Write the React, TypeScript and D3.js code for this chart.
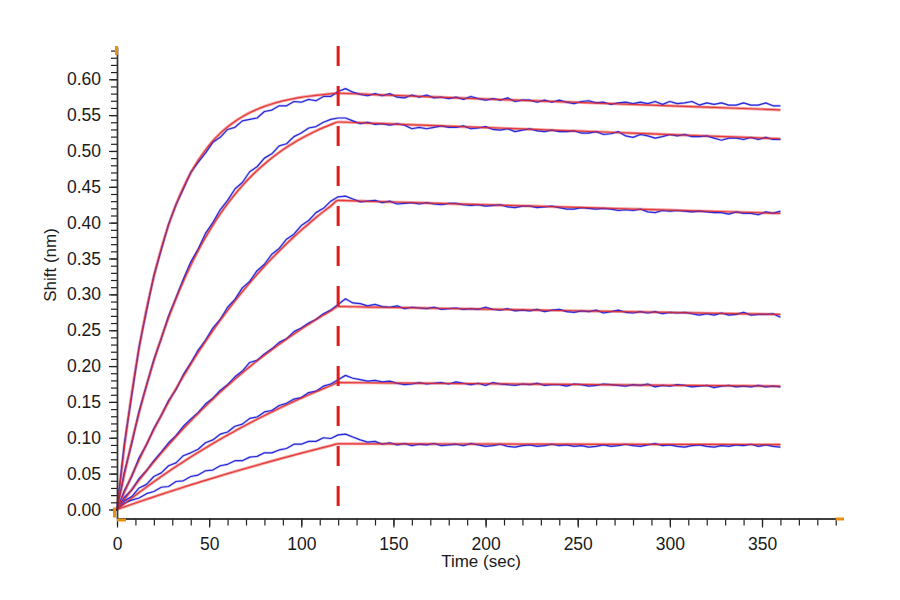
import React, { useRef, useEffect } from "react";
import * as d3 from "d3";

// sensor time grid (s) and kinetic fit time grid
const dataTimes = d3.range(0, 361, 4);
const fitTimes = d3.range(0, 121, 4).concat(d3.range(140, 361, 20));
const associationEnd = 120;

// measured response (nm), one array per analyte concentration, t = 0..360 step 4
const blue1 = [
  0.000, 0.092, 0.159, 0.227, 0.277, 0.326, 0.362, 0.398, 0.425, 0.447, 0.470, 0.484, 0.497, 0.512, 0.519, 0.530,
  0.533, 0.542, 0.544, 0.546, 0.555, 0.557, 0.563, 0.563, 0.569, 0.568, 0.572, 0.570, 0.576, 0.576, 0.583,
  0.587, 0.582, 0.579, 0.577, 0.580, 0.577, 0.580, 0.575, 0.574, 0.578, 0.575, 0.578, 0.574, 0.575, 0.573, 0.575,
  0.572, 0.576, 0.573, 0.571, 0.573, 0.571, 0.574, 0.569, 0.571, 0.571, 0.568, 0.571, 0.568, 0.571, 0.568, 0.566,
  0.569, 0.570, 0.567, 0.568, 0.565, 0.567, 0.568, 0.566, 0.568, 0.566, 0.569, 0.565, 0.569, 0.566, 0.567, 0.569,
  0.564, 0.567, 0.565, 0.567, 0.564, 0.564, 0.567, 0.564, 0.564, 0.567, 0.563, 0.563,
];
const blue2 = [
  0.000, 0.052, 0.092, 0.137, 0.173, 0.209, 0.238, 0.270, 0.295, 0.321, 0.345, 0.363, 0.385, 0.400, 0.418, 0.431,
  0.447, 0.456, 0.471, 0.478, 0.490, 0.496, 0.507, 0.510, 0.520, 0.525, 0.532, 0.534, 0.540, 0.544, 0.546,
  0.546, 0.542, 0.538, 0.540, 0.537, 0.538, 0.536, 0.538, 0.536, 0.531, 0.533, 0.531, 0.533, 0.535, 0.533, 0.533,
  0.535, 0.531, 0.532, 0.534, 0.530, 0.529, 0.531, 0.527, 0.529, 0.531, 0.528, 0.527, 0.529, 0.527, 0.527, 0.528,
  0.525, 0.525, 0.527, 0.523, 0.524, 0.527, 0.521, 0.519, 0.523, 0.521, 0.518, 0.520, 0.523, 0.521, 0.523, 0.520,
  0.520, 0.521, 0.518, 0.515, 0.518, 0.518, 0.516, 0.519, 0.516, 0.519, 0.516, 0.516,
];
const blue3 = [
  0.000, 0.026, 0.046, 0.072, 0.090, 0.113, 0.131, 0.152, 0.167, 0.188, 0.204, 0.222, 0.236, 0.253, 0.265, 0.282,
  0.293, 0.309, 0.318, 0.333, 0.342, 0.356, 0.364, 0.377, 0.384, 0.396, 0.403, 0.414, 0.420, 0.430, 0.436,
  0.437, 0.433, 0.429, 0.430, 0.431, 0.428, 0.430, 0.426, 0.427, 0.428, 0.426, 0.428, 0.426, 0.425, 0.427, 0.427,
  0.425, 0.424, 0.425, 0.423, 0.424, 0.425, 0.422, 0.421, 0.423, 0.423, 0.421, 0.422, 0.423, 0.421, 0.419, 0.419,
  0.421, 0.420, 0.419, 0.420, 0.419, 0.417, 0.418, 0.417, 0.419, 0.415, 0.414, 0.417, 0.416, 0.417, 0.416, 0.415,
  0.416, 0.415, 0.414, 0.414, 0.412, 0.415, 0.413, 0.413, 0.411, 0.415, 0.413, 0.416,
];
const blue4 = [
  0.000, 0.017, 0.027, 0.043, 0.054, 0.068, 0.080, 0.093, 0.103, 0.116, 0.126, 0.135, 0.147, 0.155, 0.166, 0.174,
  0.185, 0.193, 0.205, 0.208, 0.217, 0.224, 0.233, 0.238, 0.248, 0.253, 0.260, 0.265, 0.273, 0.278, 0.286,
  0.294, 0.288, 0.287, 0.284, 0.286, 0.283, 0.282, 0.284, 0.280, 0.282, 0.281, 0.280, 0.282, 0.279, 0.280, 0.281,
  0.279, 0.280, 0.279, 0.282, 0.279, 0.278, 0.280, 0.277, 0.278, 0.277, 0.279, 0.276, 0.278, 0.279, 0.276, 0.275,
  0.277, 0.276, 0.278, 0.274, 0.276, 0.278, 0.275, 0.274, 0.276, 0.274, 0.276, 0.273, 0.275, 0.274, 0.275, 0.273,
  0.271, 0.273, 0.271, 0.274, 0.271, 0.272, 0.275, 0.271, 0.272, 0.272, 0.273, 0.268,
];
const blue5 = [
  0.000, 0.012, 0.018, 0.030, 0.035, 0.046, 0.051, 0.061, 0.065, 0.075, 0.079, 0.084, 0.093, 0.097, 0.105, 0.108,
  0.116, 0.119, 0.127, 0.129, 0.136, 0.138, 0.145, 0.148, 0.154, 0.156, 0.163, 0.165, 0.172, 0.175, 0.181,
  0.187, 0.183, 0.181, 0.179, 0.180, 0.178, 0.179, 0.176, 0.174, 0.175, 0.177, 0.175, 0.176, 0.177, 0.175, 0.178,
  0.176, 0.174, 0.176, 0.173, 0.177, 0.175, 0.174, 0.173, 0.175, 0.174, 0.176, 0.173, 0.174, 0.174, 0.172, 0.175,
  0.174, 0.172, 0.173, 0.175, 0.174, 0.173, 0.172, 0.174, 0.173, 0.175, 0.171, 0.173, 0.172, 0.174, 0.173, 0.171,
  0.172, 0.173, 0.170, 0.172, 0.173, 0.171, 0.172, 0.171, 0.173, 0.171, 0.172, 0.171,
];
const blue6 = [
  0.000, 0.009, 0.013, 0.016, 0.022, 0.025, 0.031, 0.032, 0.039, 0.040, 0.046, 0.048, 0.054, 0.055, 0.061, 0.063,
  0.068, 0.068, 0.073, 0.074, 0.079, 0.079, 0.083, 0.085, 0.091, 0.091, 0.095, 0.095, 0.100, 0.099, 0.104,
  0.105, 0.101, 0.097, 0.094, 0.095, 0.091, 0.093, 0.090, 0.092, 0.089, 0.091, 0.090, 0.092, 0.089, 0.090, 0.091,
  0.089, 0.092, 0.090, 0.088, 0.089, 0.091, 0.088, 0.087, 0.089, 0.090, 0.088, 0.089, 0.091, 0.089, 0.090, 0.088,
  0.089, 0.087, 0.088, 0.090, 0.088, 0.089, 0.091, 0.089, 0.088, 0.090, 0.092, 0.089, 0.090, 0.088, 0.087, 0.089,
  0.090, 0.088, 0.087, 0.089, 0.088, 0.090, 0.089, 0.091, 0.088, 0.090, 0.088, 0.087,
];

// 1:1 global fit curves (nm) on fitTimes
const fit1 = [
  0, 0.0875, 0.1619, 0.2252, 0.2790, 0.3248, 0.3637, 0.3969, 0.4250, 0.4489, 0.4693, 0.4866, 0.5013, 0.5139, 0.5245,
  0.5335, 0.5412, 0.5478, 0.5534, 0.5581, 0.5621, 0.5655, 0.5684, 0.5709, 0.5730, 0.5748, 0.5763, 0.5776, 0.5787,
  0.5797, 0.5805, 0.5785, 0.5765, 0.5745, 0.5725, 0.5706, 0.5687, 0.5668, 0.5649, 0.5630, 0.5611, 0.5592, 0.5573,
];
const fit2 = [
  0, 0.0490, 0.0939, 0.1350, 0.1727, 0.2072, 0.2387, 0.2677, 0.2941, 0.3184, 0.3406, 0.3609, 0.3795, 0.3966, 0.4122,
  0.4265, 0.4396, 0.4516, 0.4626, 0.4726, 0.4818, 0.4903, 0.4980, 0.5051, 0.5116, 0.5175, 0.5229, 0.5279, 0.5325,
  0.5367, 0.5404, 0.5385, 0.5365, 0.5346, 0.5326, 0.5307, 0.5287, 0.5268, 0.5248, 0.5229, 0.5209, 0.5190, 0.5170,
];
const fit3 = [
  0, 0.0241, 0.0472, 0.0695, 0.0908, 0.1114, 0.1311, 0.1501, 0.1683, 0.1859, 0.2027, 0.2189, 0.2345, 0.2495, 0.2639,
  0.2777, 0.2910, 0.3037, 0.3160, 0.3279, 0.3392, 0.3501, 0.3605, 0.3706, 0.3803, 0.3896, 0.3985, 0.4072, 0.4154,
  0.4233, 0.4310, 0.4295, 0.4280, 0.4265, 0.4250, 0.4235, 0.4220, 0.4205, 0.4190, 0.4175, 0.4160, 0.4145, 0.4130,
];
const fit4 = [
  0, 0.0141, 0.0278, 0.0411, 0.0540, 0.0664, 0.0786, 0.0903, 0.1018, 0.1129, 0.1236, 0.1341, 0.1442, 0.1540, 0.1636,
  0.1729, 0.1818, 0.1906, 0.1990, 0.2073, 0.2152, 0.2229, 0.2304, 0.2377, 0.2448, 0.2517, 0.2583, 0.2648, 0.2711,
  0.2771, 0.2831, 0.2822, 0.2812, 0.2803, 0.2794, 0.2785, 0.2775, 0.2766, 0.2757, 0.2748, 0.2738, 0.2729, 0.2720,
];
const fit5 = [
  0, 0.0081, 0.0160, 0.0237, 0.0313, 0.0387, 0.0459, 0.0529, 0.0598, 0.0665, 0.0731, 0.0795, 0.0858, 0.0919, 0.0979,
  0.1037, 0.1095, 0.1150, 0.1205, 0.1258, 0.1310, 0.1361, 0.1411, 0.1460, 0.1507, 0.1553, 0.1599, 0.1643, 0.1686,
  0.1728, 0.1770, 0.1766, 0.1762, 0.1757, 0.1753, 0.1749, 0.1745, 0.1741, 0.1736, 0.1732, 0.1728, 0.1724, 0.1720,
];
const fit6 = [
  0, 0.0036, 0.0072, 0.0107, 0.0142, 0.0176, 0.0211, 0.0244, 0.0277, 0.0310, 0.0343, 0.0375, 0.0406, 0.0438, 0.0468,
  0.0499, 0.0529, 0.0559, 0.0588, 0.0617, 0.0647, 0.0675, 0.0703, 0.0731, 0.0758, 0.0785, 0.0812, 0.0838, 0.0865,
  0.0891, 0.0916, 0.0915, 0.0914, 0.0913, 0.0912, 0.0911, 0.0910, 0.0909, 0.0908, 0.0907, 0.0907, 0.0906, 0.0905,
];

const measured = [blue1, blue2, blue3, blue4, blue5, blue6];
const fitted = [fit1, fit2, fit3, fit4, fit5, fit6];

const xMajorTicks = [0, 50, 100, 150, 200, 250, 300, 350];
const xMinorTicks = d3.range(0, 391, 10);
const yMajorTicks = [0, 0.05, 0.1, 0.15, 0.2, 0.25, 0.3, 0.35, 0.4, 0.45, 0.5, 0.55, 0.6];
const yMinorTicks = d3.range(0, 65).map(i => i / 100);

const xTitle = "Time (sec)";
const yTitle = "Shift (nm)";

const font = "'Liberation Sans', Arial, sans-serif";
const orange = "#e8900c";

const BindingChart = () => {
  const ref = useRef<SVGSVGElement>(null);

  useEffect(() => {
    const svg = d3.select(ref.current);
    svg.selectAll("*").remove();

    const x = d3.scaleLinear().domain([0, 394]).range([117, 843.1]);
    const y = d3.scaleLinear().domain([-0.0126, 0.645]).range([518.5, 47]);
    const x0 = x(0);
    const yBase = y(-0.0126);

    const fitLine = d3.line<number>()
      .x((_, i) => x(fitTimes[i]))
      .y(d => y(d))
      .curve(d3.curveMonotoneX);

    const dataLine = d3.line<number>()
      .defined((_, i) => i < dataTimes.length)
      .x((_, i) => x(dataTimes[i]))
      .y(d => y(d));

    const plot = svg.append("g");

    // pink halo of the fits, behind the data
    fitted.forEach(f => {
      plot.append("path").attr("d", fitLine(f)).attr("fill", "none")
        .attr("stroke", "#f4a29e").attr("stroke-width", 3).attr("stroke-linejoin", "round");
    });

    measured.forEach(m => {
      plot.append("path").attr("d", dataLine(m)).attr("fill", "none")
        .attr("stroke", "#8d8df2").attr("stroke-width", 2.4).attr("stroke-opacity", 0.5)
        .attr("stroke-linejoin", "round");
      plot.append("path").attr("d", dataLine(m)).attr("fill", "none")
        .attr("stroke", "#2828d8").attr("stroke-width", 1.2).attr("stroke-linejoin", "round");
    });

    // red fit core on top
    fitted.forEach(f => {
      plot.append("path").attr("d", fitLine(f)).attr("fill", "none")
        .attr("stroke", "#e0262a").attr("stroke-width", 1.2).attr("stroke-opacity", 0.85);
    });

    // end of association
    plot.append("line")
      .attr("x1", x(associationEnd)).attr("x2", x(associationEnd))
      .attr("y1", y(0.6465)).attr("y2", y(0))
      .attr("stroke", "#e3191c").attr("stroke-width", 3)
      .attr("stroke-dasharray", "20,20");

    // x axis
    const gx = svg.append("g").attr("transform", `translate(0, ${yBase})`);
    gx.append("g").call(
      d3.axisBottom(x).tickValues(xMinorTicks).tickSize(7).tickSizeOuter(0).tickFormat(() => "")
    );
    gx.append("g").call(
      d3.axisBottom(x).tickValues(xMajorTicks).tickSize(9).tickSizeOuter(0).tickPadding(10)
        .tickFormat(d3.format("d"))
    );

    // y axis
    const gy = svg.append("g").attr("transform", `translate(${x0}, 0)`);
    gy.append("g").call(
      d3.axisLeft(y).tickValues(yMinorTicks).tickSize(6).tickSizeOuter(0).tickFormat(() => "")
    );
    gy.append("g").call(
      d3.axisLeft(y).tickValues(yMajorTicks).tickSize(8).tickSizeOuter(0).tickPadding(8)
        .tickFormat(d3.format(".2f"))
    );

    svg.selectAll(".domain").attr("stroke", "#333").attr("stroke-width", 1.4);
    svg.selectAll(".tick line").attr("stroke", "#222").attr("stroke-width", 1.2);
    svg.selectAll(".tick text").attr("font-family", font).attr("font-size", 17.5).attr("fill", "#1a1a1a");

    // axis end markers
    const marks = svg.append("g").attr("fill", orange);
    marks.append("rect").attr("x", x0 - 2).attr("y", 46).attr("width", 3).attr("height", 9);
    marks.append("rect").attr("x", x0 - 4).attr("y", y(0) - 2).attr("width", 3).attr("height", yBase - y(0) + 1);
    marks.append("rect").attr("x", x0).attr("y", yBase).attr("width", 9).attr("height", 3);
    marks.append("rect").attr("x", x(390)).attr("y", yBase - 1).attr("width", 8).attr("height", 3);

    // titles
    svg.append("text")
      .attr("x", 481).attr("y", 567)
      .attr("text-anchor", "middle")
      .attr("font-family", font).attr("font-size", 17).attr("fill", "#1a1a1a")
      .text(xTitle);

    svg.append("text")
      .attr("transform", `translate(56, 265) rotate(-90)`)
      .attr("text-anchor", "middle")
      .attr("font-family", font).attr("font-size", 17).attr("fill", "#1a1a1a")
      .text(yTitle);
  }, []);

  return (
    <svg
      ref={ref}
      width={900}
      height={600}
      style={{ position: "absolute", left: 0, top: 0, background: "#fff" }}
    />
  );
};

export default function App() {
  return <BindingChart />;
}
